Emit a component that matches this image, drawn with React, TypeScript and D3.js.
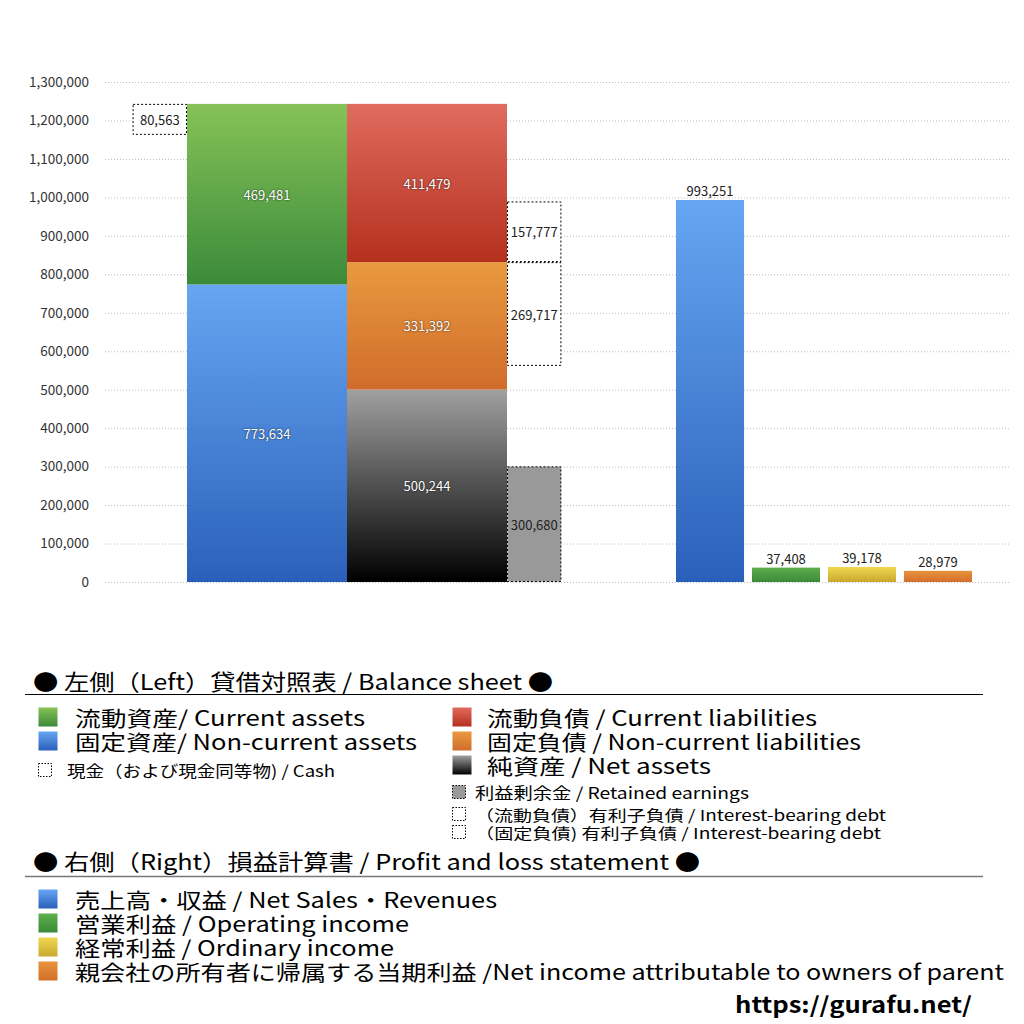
import { useEffect, useRef } from "react";
import * as d3 from "d3";

// balance sheet (left)
const assetKeys = ["nonCurrentAssets", "currentAssets"];
const assetValues = [773634, 469481];
const equityKeys = ["netAssets", "nonCurrentLiabilities", "currentLiabilities"];
const equityValues = [500244, 331392, 411479];
const cashValue = 80563;
const retainedEarnings = 300680;
const currentDebt = 157777;
const nonCurrentDebt = 269717;

// profit and loss (right)
const plKeys = ["sales", "operating", "ordinary", "netIncome"];
const plValues = [993251, 37408, 39178, 28979];

const yTickValues = [0, 100000, 200000, 300000, 400000, 500000, 600000, 700000, 800000, 900000, 1000000, 1100000, 1200000, 1300000];

const gradients: Record<string, [string, string]> = {
  currentAssets: ["#86c257", "#3b8a3b"],
  nonCurrentAssets: ["#66a6f2", "#2b60ba"],
  currentLiabilities: ["#e06b5f", "#b5301d"],
  nonCurrentLiabilities: ["#e99a3f", "#d06c2b"],
  netAssets: ["#a0a0a0", "#000000"],
  sales: ["#66a6f2", "#2b60ba"],
  operating: ["#5fae4c", "#3a8a3a"],
  ordinary: ["#efd84e", "#c9a82f"],
  netIncome: ["#e8923c", "#d36f2c"],
};

const legendLeft = [
  { key: "currentAssets", label: "流動資産/ Current assets", w: 290 },
  { key: "nonCurrentAssets", label: "固定資産/ Non-current assets", w: 342 },
];
const legendRight = [
  { key: "currentLiabilities", label: "流動負債 /  Current liabilities", w: 330 },
  { key: "nonCurrentLiabilities", label: "固定負債 / Non-current liabilities", w: 374 },
  { key: "netAssets", label: "純資産 / Net assets", w: 224 },
];
const legendPL = [
  { key: "sales", label: "売上高・収益 / Net Sales・Revenues", w: 422 },
  { key: "operating", label: "営業利益 / Operating income", w: 334 },
  { key: "ordinary", label: "経常利益 / Ordinary income", w: 319 },
  { key: "netIncome", label: "親会社の所有者に帰属する当期利益 /Net income attributable to owners of parent", w: 929 },
];

const FONT = "'Noto Sans CJK JP', 'Noto Sans', sans-serif";
const fmt = d3.format(",");

const App = () => {
  const ref = useRef<SVGSVGElement>(null);

  useEffect(() => {
    const svg = d3.select(ref.current);
    svg.selectAll("*").remove();

    const defs = svg.append("defs");
    Object.entries(gradients).forEach(([k, [c0, c1]]) => {
      const g = defs.append("linearGradient").attr("id", `g-${k}`).attr("x1", 0).attr("x2", 0).attr("y1", 0).attr("y2", 1);
      g.append("stop").attr("offset", "0%").attr("stop-color", c0);
      g.append("stop").attr("offset", "100%").attr("stop-color", c1);
    });

    const y = d3.scaleLinear().domain([0, 1300000]).range([582, 82]);
    const xBs = d3.scaleBand().domain(["assets", "equity"]).range([187, 507]).padding(0);
    const sideW = xBs.bandwidth() * 0.34;
    const xPl = d3.scaleBand().domain(plKeys).range([676, 972]).paddingInner(0.105).paddingOuter(0);

    // grid
    svg.append("g")
      .selectAll("line")
      .data(yTickValues)
      .join("line")
      .attr("x1", 105)
      .attr("x2", 1010)
      .attr("y1", (d) => y(d) + 0.5)
      .attr("y2", (d) => y(d) + 0.5)
      .attr("stroke", "#bdbdbd")
      .attr("stroke-dasharray", "1,2");

    const axis = svg.append("g")
      .attr("transform", "translate(89,0)")
      .call(d3.axisLeft(y).tickValues(yTickValues).tickSize(0).tickPadding(0).tickFormat((d) => fmt(d as number)));
    axis.select(".domain").remove();
    axis.selectAll("text").attr("font-family", FONT).attr("font-size", 13.5).attr("fill", "#333");

    const whiteLabel = (sel: any) =>
      sel.attr("font-family", FONT).attr("font-size", 13).attr("fill", "#fff")
        .attr("text-anchor", "middle").attr("dominant-baseline", "central")
        .style("text-shadow", "0 0 2px rgba(0,0,0,0.8)");
    const darkLabel = (sel: any) =>
      sel.attr("font-family", FONT).attr("font-size", 13).attr("fill", "#222")
        .attr("text-anchor", "middle").attr("dominant-baseline", "central");

    // stacks
    const assetEnds = d3.cumsum(assetValues);
    const assetData = assetKeys.map((k, i) => ({ k, v: assetValues[i], y0: assetEnds[i] - assetValues[i], y1: assetEnds[i] }));
    const equityEnds = d3.cumsum(equityValues);
    const equityData = equityKeys.map((k, i) => ({ k, v: equityValues[i], y0: equityEnds[i] - equityValues[i], y1: equityEnds[i] }));

    const stacks = [
      { col: "assets", data: assetData },
      { col: "equity", data: equityData },
    ];
    stacks.forEach(({ col, data }) => {
      const g = svg.append("g");
      g.selectAll("rect").data(data).join("rect")
        .attr("x", xBs(col)!)
        .attr("width", xBs.bandwidth())
        .attr("y", (d) => y(d.y1))
        .attr("height", (d) => y(d.y0) - y(d.y1))
        .attr("fill", (d) => `url(#g-${d.k})`);
      g.selectAll("text").data(data).join("text")
        .attr("x", xBs(col)! + xBs.bandwidth() / 2)
        .attr("y", (d) => (y(d.y0) + y(d.y1)) / 2)
        .text((d) => fmt(d.v))
        .call(whiteLabel);
    });

    // dashed side boxes
    const totalAssets = assetEnds[assetEnds.length - 1];
    const ncTop = equityEnds[1];
    const boxes = [
      { x: xBs("assets")! - sideW, y0: totalAssets - cashValue, y1: totalAssets, v: cashValue, fill: "#fff" },
      { x: xBs("equity")! + xBs.bandwidth(), y0: 0, y1: retainedEarnings, v: retainedEarnings, fill: "#999" },
      { x: xBs("equity")! + xBs.bandwidth(), y0: ncTop - nonCurrentDebt, y1: ncTop, v: nonCurrentDebt, fill: "#fff" },
      { x: xBs("equity")! + xBs.bandwidth(), y0: ncTop, y1: ncTop + currentDebt, v: currentDebt, fill: "#fff" },
    ];
    const bx = svg.append("g");
    bx.selectAll("rect").data(boxes).join("rect")
      .attr("x", (d) => d.x + 0.5)
      .attr("width", sideW - 1)
      .attr("y", (d) => y(d.y1) + 0.5)
      .attr("height", (d) => y(d.y0) - y(d.y1) - 1)
      .attr("fill", (d) => d.fill)
      .attr("stroke", "#000")
      .attr("stroke-width", 1)
      .attr("stroke-dasharray", "2,2");
    bx.selectAll("text").data(boxes).join("text")
      .attr("x", (d) => d.x + sideW / 2)
      .attr("y", (d) => (y(d.y0) + y(d.y1)) / 2)
      .text((d) => fmt(d.v))
      .call(darkLabel);

    // P&L bars
    const pl = svg.append("g");
    const plData = plKeys.map((k, i) => ({ k, v: plValues[i] }));
    pl.selectAll("rect").data(plData).join("rect")
      .attr("x", (d) => xPl(d.k)!)
      .attr("width", xPl.bandwidth())
      .attr("y", (d) => y(d.v))
      .attr("height", (d) => y(0) - y(d.v))
      .attr("fill", (d) => `url(#g-${d.k})`);
    pl.selectAll("text").data(plData).join("text")
      .attr("x", (d) => xPl(d.k)! + xPl.bandwidth() / 2)
      .attr("y", (d) => y(d.v) - 9)
      .text((d) => fmt(d.v))
      .call(darkLabel);

    // legend
    const lg = svg.append("g").attr("font-family", FONT).attr("fill", "#000");
    const txt = (x: number, yy: number, s: string, size: number, w: number, weight = "normal") =>
      lg.append("text").attr("x", x).attr("y", yy).attr("font-size", size).attr("font-weight", weight)
        .attr("dominant-baseline", "central").attr("textLength", w).attr("lengthAdjust", "spacingAndGlyphs").text(s);
    const swatch = (x: number, yy: number, s: number, fill: string, dashed = false) =>
      lg.append("rect").attr("x", x + 0.5).attr("y", yy - s / 2 + 0.5).attr("width", s - 1).attr("height", s - 1)
        .attr("fill", fill).attr("stroke", dashed ? "#000" : "none").attr("stroke-dasharray", dashed ? "1.5,1.5" : null);

    txt(33, 680, "● 左側（Left）貸借対照表 / Balance sheet ●", 22, 520);
    lg.append("line").attr("x1", 25).attr("x2", 983).attr("y1", 694.5).attr("y2", 694.5).attr("stroke", "#000");
    legendLeft.forEach((d, i) => {
      swatch(38, 717 + i * 24, 20, `url(#g-${d.key})`);
      txt(75, 717 + i * 24, d.label, 21, d.w);
    });
    swatch(38, 770, 14, "#fff", true);
    txt(67, 770, "現金（および現金同等物) / Cash", 16, 268);
    legendRight.forEach((d, i) => {
      swatch(452, 717 + i * 24, 20, `url(#g-${d.key})`);
      txt(487, 717 + i * 24, d.label, 21, d.w);
    });
    swatch(452, 792, 14, "#999", true);
    txt(475, 792, "利益剰余金 / Retained earnings", 16, 274);
    swatch(452, 814, 14, "#fff", true);
    txt(475, 814, "（流動負債）有利子負債 / Interest-bearing debt", 15, 411);
    swatch(452, 832, 14, "#fff", true);
    txt(475, 832, "（固定負債) 有利子負債 / Interest-bearing debt", 15, 406);

    txt(33, 860, "● 右側（Right）損益計算書 / Profit and loss statement ●", 22, 667);
    lg.append("line").attr("x1", 25).attr("x2", 983).attr("y1", 876.5).attr("y2", 876.5).attr("stroke", "#777").attr("stroke-width", 1.5);
    legendPL.forEach((d, i) => {
      swatch(38, 899 + i * 24, 20, `url(#g-${d.key})`);
      txt(75, 899 + i * 24, d.label, 21, d.w);
    });

    txt(735, 1003, "https://gurafu.net/", 22, 237, "bold");
  }, []);

  return (
    <svg
      ref={ref}
      width={1024}
      height={1024}
      style={{ position: "absolute", left: 0, top: 0, background: "#fff" }}
    />
  );
};

export default App;
